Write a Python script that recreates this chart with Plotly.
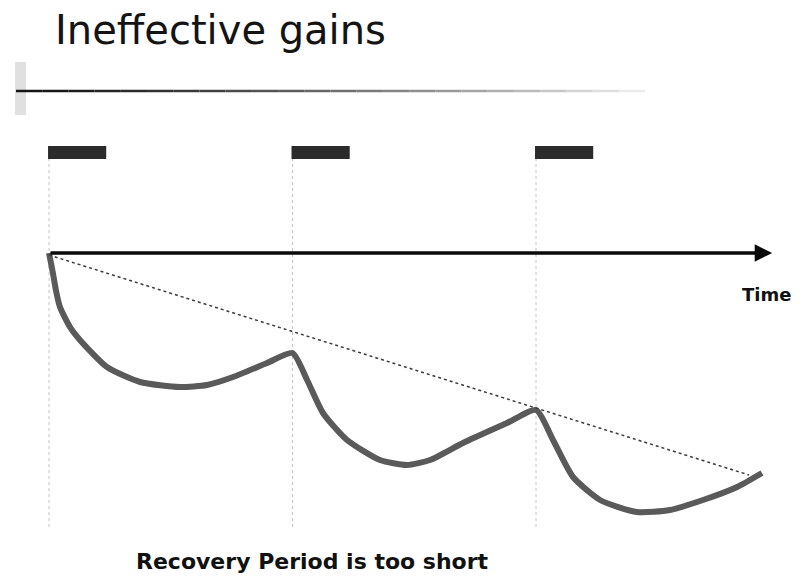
import plotly.graph_objects as go

# time in training periods (one period between stimuli), level relative to the start
curve_t = [0.0, 0.016, 0.029, 0.045, 0.086, 0.127, 0.238, 0.374, 0.538, 0.649, 0.756, 0.895, 1.0,
           1.06, 1.125, 1.224, 1.359, 1.47, 1.565, 1.70, 1.881, 2.0,
           2.07, 2.152, 2.263, 2.415, 2.55, 2.686, 2.826, 2.928]
curve_level = [0.0, -0.2, -0.38, -0.54, -0.74, -0.87, -1.14, -1.29, -1.34, -1.32, -1.24, -1.10, -1.0,
               -1.27, -1.60, -1.87, -2.07, -2.12, -2.07, -1.90, -1.70, -1.57,
               -1.87, -2.24, -2.47, -2.59, -2.57, -2.47, -2.34, -2.20]

trend_t = [0.0, 2.875]
trend_level = [-0.02, -2.22]

stimulus_start = [0.0, 1.0, 2.0]
stimulus_len = 0.235
stimulus_low, stimulus_high = 0.94, 1.07

time_end = 2.97
guide_bottom = -2.74

W, H, OFF = 807, 588, 8  # page body margin shifts the plot by 8px


def px(p):
    return (p - OFF) / W


def py(p):
    return 1 - (p - OFF) / H


fig = go.Figure()

# curve
fig.add_trace(go.Scatter(x=curve_t, y=curve_level, mode='lines',
                         line=dict(color='#5a5a5a', width=6, shape='spline', smoothing=0.6),
                         hoverinfo='skip'))
# dotted trend
fig.add_trace(go.Scatter(x=trend_t, y=trend_level, mode='lines',
                         line=dict(color='#3c3c3c', width=1.5, dash='dot'),
                         hoverinfo='skip'))

shapes = []
for s in stimulus_start:
    # vertical guide
    shapes.append(dict(type='line', x0=s, x1=s, y0=guide_bottom, y1=stimulus_low,
                       line=dict(color='#c4c4c4', width=1, dash='dot'), layer='below'))
    # stimulus block
    shapes.append(dict(type='rect', x0=s - 0.004, x1=s + stimulus_len, y0=stimulus_low, y1=stimulus_high,
                       fillcolor='#2b2b2b', line=dict(width=0)))

# header rule, fading to the right
n_seg = 24
x_left, x_right = px(16), px(645)
for i in range(n_seg):
    g = int(20 + (235 - 20) * (i / (n_seg - 1)) ** 1.3)
    shapes.append(dict(type='line', xref='paper', yref='paper',
                       x0=x_left + (x_right - x_left) * i / n_seg,
                       x1=x_left + (x_right - x_left) * (i + 1) / n_seg,
                       y0=py(91), y1=py(91),
                       line=dict(color=f'rgb({g},{g},{g})', width=2.5)))
shapes.append(dict(type='rect', xref='paper', yref='paper',
                   x0=px(15), x1=px(26), y0=py(115), y1=py(62),
                   fillcolor='#e0e0e0', line=dict(width=0), layer='below'))

annotations = [
    # time axis arrow
    dict(x=time_end, y=0, ax=0, ay=0, xref='x', yref='y', axref='x', ayref='y',
         text='', showarrow=True, arrowhead=2, arrowsize=1, arrowwidth=3.5, arrowcolor='#0a0a0a'),
    dict(x=2.945, y=-0.41, xref='x', yref='y', xanchor='center', yanchor='middle',
         text='<b>Time</b>', showarrow=False,
         font=dict(family='DejaVu Sans', size=18, color='#111')),
    dict(x=px(53), y=py(30), xref='paper', yref='paper', xanchor='left', yanchor='middle',
         text='Ineffective gains', showarrow=False,
         font=dict(family='DejaVu Sans', size=40, color='#141414')),
    dict(x=px(312), y=py(561), xref='paper', yref='paper', xanchor='center', yanchor='middle',
         text='<b>Recovery Period is too short</b>', showarrow=False,
         font=dict(family='DejaVu Sans', size=22, color='#111')),
]

# t=0 sits at page x=49, y=0 at page y=253; 243.5 px per period, 100 px per level unit
fig.update_layout(
    width=W, height=H,
    margin=dict(l=0, r=0, t=0, b=0),
    paper_bgcolor='white', plot_bgcolor='white',
    showlegend=False,
    xaxis=dict(range=[-(49 - OFF) / 243.5, (W - 49 + OFF) / 243.5], visible=False, fixedrange=True),
    yaxis=dict(range=[-(H - 253 + OFF) / 100, (253 - OFF) / 100], visible=False, fixedrange=True),
    shapes=shapes,
    annotations=annotations,
)

fig.write_html("out.html")
